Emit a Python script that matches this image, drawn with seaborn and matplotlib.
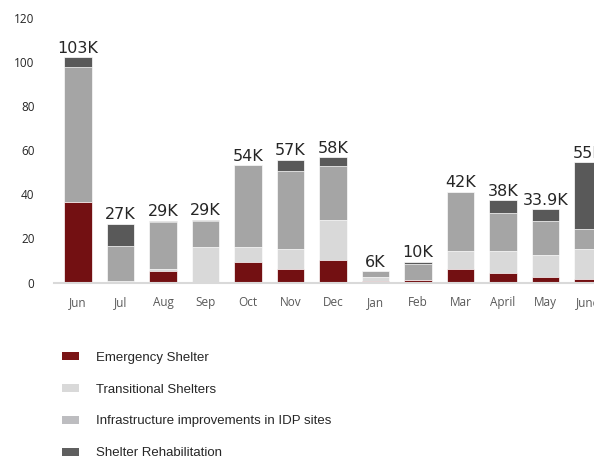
import pandas as pd
import matplotlib.pyplot as plt
import seaborn as sns
from matplotlib.patches import Patch

# -----------------------------------------------------
# DATA (thousands of people reached)
# -----------------------------------------------------
months = ["Jun", "Jul", "Aug", "Sep", "Oct", "Nov", "Dec",
          "Jan", "Feb", "Mar", "April", "May", "June"]
emergency = [36.5, 0.0, 5.1, 0.0, 9.4, 6.3, 10.0, 0.8, 1.0, 6.3, 4.2, 2.6, 1.7]
transitional = [0.0, 0.6, 1.1, 16.3, 6.5, 9.1, 18.5, 1.7, 0.2, 7.8, 10.2, 9.9, 13.3]
infrastructure = [61.2, 15.8, 21.1, 11.5, 37.4, 35.0, 24.4, 2.7, 7.4, 27.0, 17.0, 15.5, 9.1]
rehabilitation = [4.5, 10.3, 0.8, 0.6, 0.0, 5.3, 3.9, 0.0, 0.8, 0.0, 6.0, 5.3, 30.4]
total_labels = ["103K", "27K", "29K", "29K", "54K", "57K", "58K",
                "6K", "10K", "42K", "38K", "33.9K", "55K"]

series = ["Emergency Shelter", "Transitional Shelters",
          "Infrastructure improvements in IDP sites", "Shelter Rehabilitation"]
colors = ["#731012", "#d9d9d9", "#a5a5a5", "#595959"]
legend_colors = ["#7a1416", "#d9d9d9", "#bdbdc0", "#5f5f5f"]

df = pd.DataFrame({
    "month": months,
    series[0]: emergency,
    series[1]: transitional,
    series[2]: infrastructure,
    series[3]: rehabilitation,
})
# cumulative heights for stacking
cum = df[series].cumsum(axis=1)
cum["month"] = df["month"]

sns.set_theme(style="white")

fig = plt.figure(figsize=(5.94, 4.59), dpi=100)
ax = fig.add_axes([0.0909, 0.3845, 0.9091, 0.5769])

# draw tallest stack first, smaller ones over it
for name, col in reversed(list(zip(series, colors))):
    sns.barplot(data=cum, x="month", y=name, order=months, color=col,
                width=0.64, edgecolor="white", linewidth=0.5,
                saturation=1, ax=ax)

for i, lab in enumerate(total_labels):
    ax.annotate(lab, (i, cum[series[-1]][i]), xytext=(0, 1),
                textcoords="offset points", ha="center", va="bottom",
                fontsize=11.5, color="#262626", family="DejaVu Sans")

ax.set_ylim(0, 120)
ax.set_xlim(-0.565, 12.14)
ax.set_yticks(range(0, 121, 20))
ax.set_xlabel("")
ax.set_ylabel("")
for s in ["left", "right", "top"]:
    ax.spines[s].set_visible(False)
ax.spines["bottom"].set_color("#d9d9d9")
ax.spines["bottom"].set_linewidth(1.5)
ax.tick_params(axis="y", length=0, pad=14, labelsize=8.5, labelcolor="#262626")
ax.tick_params(axis="x", length=0, pad=10, labelsize=8.5, labelcolor="#595959")
for t in ax.get_xticklabels() + ax.get_yticklabels():
    t.set_family("Open Sans")

handles = [Patch(facecolor=c, edgecolor="none") for c in legend_colors]
fig.legend(handles, series, loc="upper left", bbox_to_anchor=(0.095, 0.245),
           frameon=False, prop={"family": "Liberation Sans", "size": 9.5},
           labelcolor="#262626", handlelength=1.3, handleheight=0.55,
           handletextpad=1.3, labelspacing=1.5, borderaxespad=0)

fig.savefig("out.png", dpi=100)
